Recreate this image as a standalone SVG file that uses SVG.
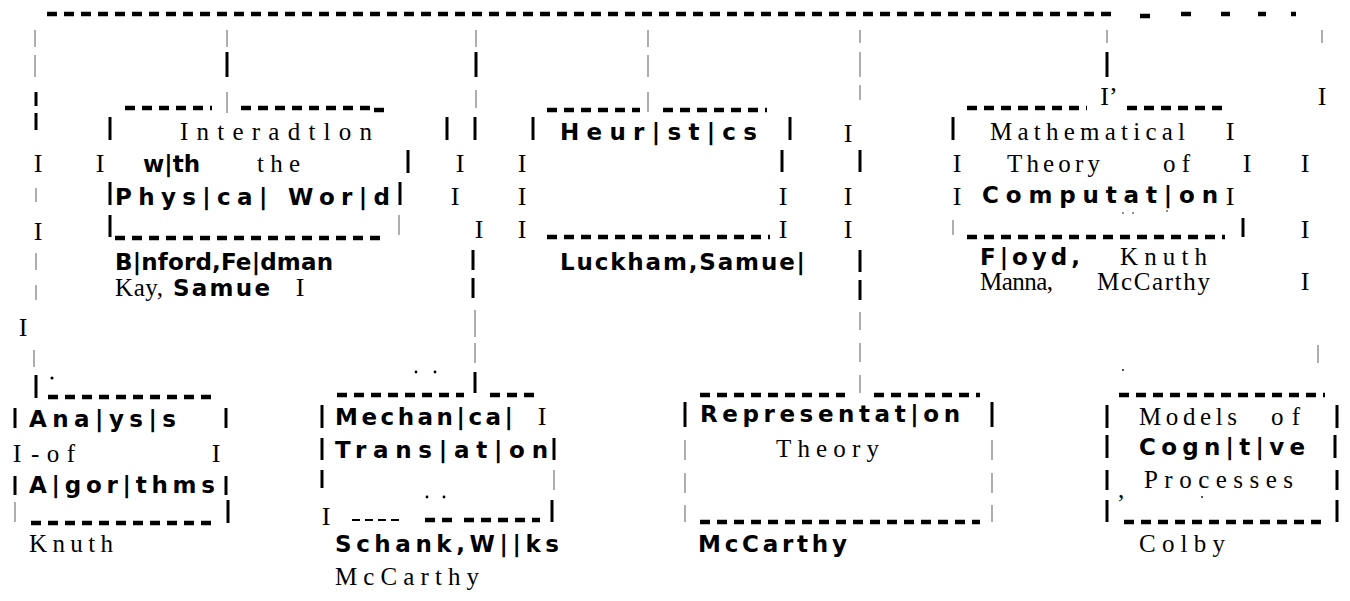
<svg xmlns="http://www.w3.org/2000/svg" width="1350" height="601" viewBox="0 0 1350 601">
<style>
.d{stroke:#000;stroke-width:4.5;stroke-dasharray:10 7;fill:none}
.b{stroke:#000;stroke-width:3}
.t{stroke:#777;stroke-width:1.2}
.s{font-family:"DejaVu Sans","Liberation Sans",Arial,sans-serif;font-weight:bold;font-size:23px;fill:#000}
.r{font-family:"Liberation Serif","Times New Roman",serif;font-size:25px;fill:#000}
.i{font-family:"Liberation Serif","Times New Roman",serif;font-size:26px;fill:#000;text-anchor:middle}
</style>
<rect width="1350" height="601" fill="#fff"/>
<g id="connectors">
<line class="d" x1="47" y1="14" x2="1116" y2="14"/>
<line class="d" x1="1140" y1="16" x2="1150" y2="16"/>
<line class="d" x1="1181" y1="14" x2="1191" y2="14"/>
<line class="d" x1="1221" y1="14" x2="1230" y2="14"/>
<line class="d" x1="1258" y1="14" x2="1266" y2="14"/>
<line class="d" x1="1291" y1="14" x2="1296" y2="14"/>
<line class="t" x1="35" y1="30" x2="35" y2="47"/>
<line class="t" x1="35" y1="55" x2="35" y2="77"/>
<line class="b" x1="36" y1="92" x2="36" y2="106"/>
<line class="b" x1="36" y1="113" x2="36" y2="130"/>
<text class="i" x="38" y="172">I</text>
<line class="t" x1="36" y1="188" x2="36" y2="202"/>
<text class="i" x="38" y="240">I</text>
<line class="t" x1="36" y1="253" x2="36" y2="270"/>
<line class="t" x1="36" y1="285" x2="36" y2="300"/>
<text class="i" x="23" y="336">I</text>
<line class="t" x1="34" y1="350" x2="34" y2="367"/>
<line class="b" x1="36" y1="375" x2="36" y2="398"/>
<circle cx="52" cy="378" r="1.6"/>
<line class="t" x1="227" y1="30" x2="227" y2="47"/>
<line class="b" x1="227" y1="52" x2="227" y2="77"/>
<line class="t" x1="227" y1="92" x2="227" y2="113"/>
<line class="t" x1="476" y1="30" x2="476" y2="47"/>
<line class="b" x1="476" y1="52" x2="476" y2="77"/>
<line class="t" x1="476" y1="90" x2="476" y2="108"/>
<line class="b" x1="475" y1="117" x2="475" y2="140"/>
<text class="i" x="460" y="172">I</text>
<text class="i" x="455" y="205">I</text>
<text class="i" x="479" y="238">I</text>
<line class="b" x1="473" y1="250" x2="473" y2="270"/>
<line class="b" x1="473" y1="278" x2="473" y2="298"/>
<line class="t" x1="475" y1="310" x2="475" y2="337"/>
<line class="t" x1="475" y1="343" x2="475" y2="363"/>
<line class="b" x1="475" y1="372" x2="475" y2="393"/>
<line class="t" x1="648" y1="30" x2="648" y2="47"/>
<line class="t" x1="648" y1="55" x2="648" y2="77"/>
<line class="t" x1="648" y1="92" x2="648" y2="112"/>
<line class="t" x1="860" y1="30" x2="860" y2="43"/>
<line class="t" x1="860" y1="52" x2="860" y2="77"/>
<line class="t" x1="860" y1="85" x2="860" y2="100"/>
<text class="i" x="848" y="142">I</text>
<line class="b" x1="860" y1="150" x2="860" y2="172"/>
<text class="i" x="848" y="205">I</text>
<text class="i" x="848" y="238">I</text>
<line class="b" x1="860" y1="250" x2="860" y2="272"/>
<line class="b" x1="860" y1="280" x2="860" y2="300"/>
<line class="t" x1="860" y1="312" x2="860" y2="330"/>
<line class="t" x1="860" y1="343" x2="860" y2="362"/>
<line class="t" x1="860" y1="375" x2="860" y2="393"/>
<line class="t" x1="1107" y1="30" x2="1107" y2="43"/>
<line class="b" x1="1107" y1="52" x2="1107" y2="77"/>
<text class="i" x="1109" y="105">I’</text>
<line class="t" x1="1322" y1="30" x2="1322" y2="43"/>
<text class="i" x="1322" y="105">I</text>
<text class="i" x="1305" y="172">I</text>
<text class="i" x="1305" y="238">I</text>
<text class="i" x="1305" y="290">I</text>
<line class="t" x1="1318" y1="345" x2="1318" y2="363"/>
</g>
<g id="interaction">
<line class="d" x1="125" y1="108" x2="212" y2="108"/>
<line class="d" x1="241" y1="108" x2="372" y2="108"/>
<line class="d" x1="374" y1="110" x2="384" y2="110"/>
<line class="b" x1="110" y1="117" x2="110" y2="140"/>
<text class="r" x="180" y="140" textLength="192" lengthAdjust="spacing">Interadtlon</text>
<line class="b" x1="447" y1="117" x2="447" y2="140"/>
<text class="i" x="100" y="172">I</text>
<text class="s" x="143" y="172" textLength="57" lengthAdjust="spacing">w|th</text>
<text class="r" x="257" y="172" textLength="43" lengthAdjust="spacing">the</text>
<line class="b" x1="408" y1="150" x2="408" y2="173"/>
<line class="b" x1="110" y1="182" x2="110" y2="205"/>
<text class="s" x="115" y="205" textLength="275" lengthAdjust="spacing">Phys|ca| Wor|d</text>
<line class="b" x1="400" y1="182" x2="400" y2="205"/>
<line class="b" x1="110" y1="215" x2="110" y2="237"/>
<line class="d" x1="115" y1="238" x2="383" y2="238"/>
<line class="t" x1="399" y1="215" x2="399" y2="235"/>
<text class="s" x="115" y="270" textLength="218" lengthAdjust="spacing">B|nford,Fe|dman</text>
<text class="r" x="115" y="296" textLength="48" lengthAdjust="spacing">Kay,</text>
<text class="s" x="173" y="296" textLength="97" lengthAdjust="spacing">Samue</text>
<text class="i" x="300" y="296">I</text>
</g>
<g id="heuristics">
<line class="d" x1="547" y1="110" x2="640" y2="110"/>
<line class="d" x1="663" y1="110" x2="767" y2="110"/>
<line class="b" x1="533" y1="117" x2="533" y2="140"/>
<text class="s" x="560" y="140" textLength="197" lengthAdjust="spacing">Heur|st|cs</text>
<line class="b" x1="790" y1="117" x2="790" y2="140"/>
<text class="i" x="522" y="172">I</text>
<line class="b" x1="782" y1="150" x2="782" y2="172"/>
<text class="i" x="522" y="205">I</text>
<text class="i" x="783" y="205">I</text>
<text class="i" x="522" y="238">I</text>
<line class="d" x1="547" y1="237" x2="770" y2="237"/>
<text class="i" x="783" y="238">I</text>
<text class="s" x="560" y="270" textLength="245" lengthAdjust="spacing">Luckham,Samue|</text>
</g>
<g id="computation">
<line class="d" x1="967" y1="108" x2="1087" y2="108"/>
<line class="d" x1="1127" y1="108" x2="1225" y2="108"/>
<line class="b" x1="953" y1="117" x2="953" y2="140"/>
<text class="r" x="990" y="140" textLength="195" lengthAdjust="spacing">Mathematical</text>
<text class="i" x="1230" y="140">I</text>
<text class="i" x="957" y="172">I</text>
<text class="r" x="1007" y="172" textLength="93" lengthAdjust="spacing">Theory</text>
<text class="r" x="1163" y="172" textLength="27" lengthAdjust="spacing">of</text>
<text class="i" x="1247" y="172">I</text>
<text class="i" x="957" y="205">I</text>
<text class="s" x="982" y="203" textLength="236" lengthAdjust="spacing">Computat|on</text>
<text class="i" x="1230" y="205">I</text>
<circle cx="1123" cy="213" r="0.8"/>
<circle cx="1133" cy="213" r="0.8"/>
<circle cx="1167" cy="211" r="0.8"/>
<line class="t" x1="953" y1="220" x2="953" y2="235"/>
<line class="d" x1="967" y1="237" x2="1225" y2="237"/>
<line class="b" x1="1243" y1="218" x2="1243" y2="237"/>
<text class="s" x="980" y="265" textLength="100" lengthAdjust="spacing">F|oyd,</text>
<text class="r" x="1120" y="265" textLength="87" lengthAdjust="spacing">Knuth</text>
<text class="r" x="980" y="290" textLength="73" lengthAdjust="spacing">Manna,</text>
<text class="r" x="1097" y="290" textLength="113" lengthAdjust="spacing">McCarthy</text>
</g>
<g id="analysis">
<line class="d" x1="48" y1="397" x2="213" y2="397"/>
<line class="b" x1="15" y1="408" x2="15" y2="428"/>
<text class="s" x="29" y="427" textLength="147" lengthAdjust="spacing">Ana|ys|s</text>
<line class="b" x1="226" y1="408" x2="226" y2="428"/>
<text class="i" x="17" y="462">I</text>
<text class="r" x="31" y="462" textLength="44" lengthAdjust="spacing">-of</text>
<text class="i" x="216" y="462">I</text>
<line class="b" x1="15" y1="476" x2="15" y2="495"/>
<text class="s" x="29" y="493" textLength="186" lengthAdjust="spacing">A|gor|thms</text>
<line class="b" x1="226" y1="476" x2="226" y2="495"/>
<line class="t" x1="15" y1="502" x2="15" y2="522"/>
<line class="d" x1="31" y1="523" x2="215" y2="523"/>
<line class="b" x1="228" y1="500" x2="228" y2="523"/>
<text class="r" x="29" y="552" textLength="84" lengthAdjust="spacing">Knuth</text>
</g>
<g id="mechanical">
<circle cx="416" cy="372" r="1.4"/>
<circle cx="435" cy="372" r="1.4"/>
<line class="d" x1="337" y1="395" x2="464" y2="395"/>
<line class="d" x1="490" y1="395" x2="540" y2="395"/>
<line class="b" x1="322" y1="405" x2="322" y2="428"/>
<text class="s" x="335" y="425" textLength="178" lengthAdjust="spacing">Mechan|ca|</text>
<text class="i" x="542" y="425">I</text>
<line class="b" x1="322" y1="438" x2="322" y2="460"/>
<text class="s" x="335" y="458" textLength="213" lengthAdjust="spacing">Trans|at|on</text>
<line class="b" x1="554" y1="438" x2="554" y2="460"/>
<line class="b" x1="322" y1="470" x2="322" y2="488"/>
<line class="t" x1="554" y1="470" x2="554" y2="490"/>
<circle cx="427" cy="497" r="1.4"/>
<circle cx="444" cy="497" r="1.4"/>
<text class="i" x="326" y="525">I</text>
<line stroke="#000" stroke-width="2" stroke-dasharray="8 5" x1="352" y1="520" x2="400" y2="520"/>
<line class="d" x1="425" y1="520" x2="452" y2="520"/>
<line class="d" x1="464" y1="520" x2="540" y2="520"/>
<line class="b" x1="552" y1="500" x2="552" y2="522"/>
<text class="s" x="335" y="552" textLength="224" lengthAdjust="spacing">Schank,W||ks</text>
<text class="r" x="335" y="585" textLength="144" lengthAdjust="spacing">McCarthy</text>
</g>
<g id="representation">
<line class="d" x1="700" y1="395" x2="845" y2="395"/>
<line class="d" x1="874" y1="395" x2="980" y2="395"/>
<line class="b" x1="685" y1="402" x2="685" y2="427"/>
<text class="s" x="700" y="422" textLength="260" lengthAdjust="spacing">Representat|on</text>
<line class="b" x1="992" y1="402" x2="992" y2="427"/>
<line class="t" x1="685" y1="440" x2="685" y2="460"/>
<text class="r" x="776" y="457" textLength="103" lengthAdjust="spacing">Theory</text>
<line class="t" x1="992" y1="440" x2="992" y2="460"/>
<line class="t" x1="685" y1="473" x2="685" y2="493"/>
<line class="t" x1="992" y1="473" x2="992" y2="493"/>
<line class="t" x1="685" y1="505" x2="685" y2="522"/>
<line class="d" x1="700" y1="522" x2="980" y2="522"/>
<line class="t" x1="992" y1="505" x2="992" y2="522"/>
<text class="s" x="698" y="552" textLength="149" lengthAdjust="spacing">McCarthy</text>
</g>
<g id="cognitive">
<circle cx="1123" cy="370" r="0.9"/>
<line class="d" x1="1119" y1="395" x2="1325" y2="395"/>
<line class="b" x1="1107" y1="405" x2="1107" y2="428"/>
<text class="r" x="1139" y="425" textLength="98" lengthAdjust="spacing">Models</text>
<text class="r" x="1271" y="425" textLength="29" lengthAdjust="spacing">of</text>
<line class="b" x1="1337" y1="405" x2="1337" y2="428"/>
<line class="b" x1="1107" y1="435" x2="1107" y2="458"/>
<text class="s" x="1139" y="455" textLength="166" lengthAdjust="spacing">Cogn|t|ve</text>
<line class="b" x1="1335" y1="435" x2="1335" y2="458"/>
<line class="b" x1="1107" y1="470" x2="1107" y2="490"/>
<text class="r" x="1118" y="498" font-size="14">,</text>
<text class="r" x="1144" y="488" textLength="149" lengthAdjust="spacing">Processes</text>
<circle cx="1202" cy="497" r="0.9"/>
<line class="b" x1="1337" y1="470" x2="1337" y2="490"/>
<line class="b" x1="1107" y1="500" x2="1107" y2="522"/>
<line class="d" x1="1124" y1="522" x2="1325" y2="522"/>
<line class="b" x1="1337" y1="500" x2="1337" y2="522"/>
<text class="r" x="1139" y="552" textLength="86" lengthAdjust="spacing">Colby</text>
</g>
</svg>
